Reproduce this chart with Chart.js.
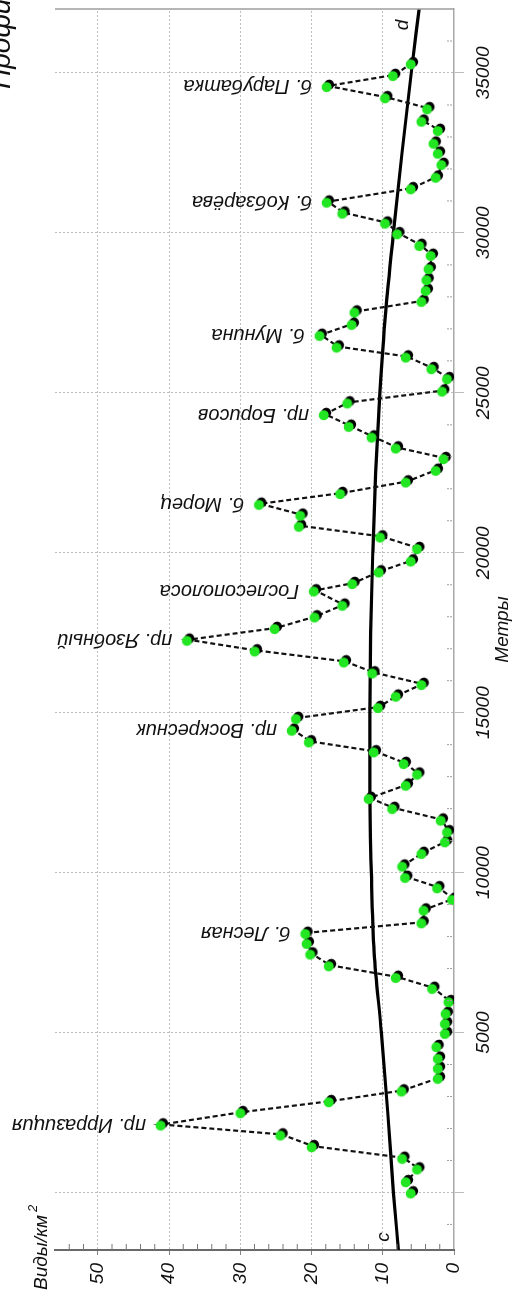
<!DOCTYPE html>
<html>
<head>
<meta charset="utf-8">
<script src="https://cdn.jsdelivr.net/npm/chart.js@4.4.0/dist/chart.umd.min.js"></script>
<style>
  html, body { margin: 0; padding: 0; background: #fff; overflow: hidden; }
  body { width: 515px; height: 1297px; position: relative; }
  /* the profile is drawn lying on its side: canvas is laid out wide, then turned */
  #wrap {
    position: absolute; left: 0; top: 0;
    width: 1297px; height: 515px;
    transform-origin: 0 0;
    transform: translate(0, 1297px) rotate(-90deg);
  }
</style>
</head>
<body>
<div id="wrap"><canvas id="profileChart" width="1297" height="515"></canvas></div>
<script>
// distance along the profile, m
const distance = [
    0, 353, 750, 1083, 1447, 1813, 2125, 2510, 2853, 3188,
    3584, 3900, 4210, 4578, 4990, 5300, 5615, 5980, 6397, 6740,
    7103, 7469, 7803, 8116, 8447, 8844, 9178, 9541, 9866, 10219,
    10616, 10978, 11291, 11656, 12022, 12334, 12750, 13094, 13428, 13791,
    14103, 14469, 14834, 15178, 15531, 15897, 16259, 16603, 16947, 17281,
    17647, 18009, 18375, 18822, 19053, 19416, 19759, 20147, 20509, 20844,
    21188, 21531, 21866, 22228, 22594, 22959, 23291, 23634, 23969, 24334,
    24700, 25072, 25459, 25772, 26134, 26447, 26813, 27156, 27541, 27875,
    28219, 28553, 28897, 29313, 29625, 29990, 30322, 30634, 30978, 31397,
    31759, 32156, 32509, 32822, 33219, 33509, 33897, 34241, 34594, 34938,
    35303
];
// species per km2 at each station
const species = [
    5.9, 6.6, 5.0, 7.1, 19.8, 24.2, 41.0, 29.8, 17.4, 7.2,
    2.1, 2.1, 2.1, 2.3, 1.1, 1.1, 1.0, 0.6, 2.9, 8.0,
    17.4, 20.0, 20.5, 20.7, 4.4, 4.1, 0.1, 2.2, 6.7, 7.1,
    4.4, 1.1, 0.8, 1.7, 8.5, 11.8, 6.6, 5.0, 6.9, 11.1,
    20.2, 22.6, 22.0, 10.5, 8.0, 4.4, 11.3, 15.3, 27.8, 37.3,
    25.0, 19.4, 15.5, 19.5, 14.1, 10.4, 5.9, 5.0, 10.2, 21.6,
    21.4, 27.2, 15.8, 6.6, 2.4, 1.3, 8.0, 11.4, 14.6, 18.1,
    14.8, 1.5, 0.8, 3.0, 6.6, 16.3, 18.7, 14.2, 13.8, 4.4,
    3.8, 3.7, 3.4, 3.1, 4.7, 7.8, 9.5, 15.5, 17.7, 5.9,
    2.4, 1.6, 2.1, 2.7, 2.1, 4.4, 3.6, 9.5, 17.7, 8.4,
    5.9
];
// smoothed trend c - d
const trendDistance = [-1800, 0, 2500, 5000, 7500, 10000, 12500, 15000, 17500, 20000, 22500, 25000, 27500, 30000, 32500, 35000, 37000];
const trendSpecies = [7.8, 8.5, 9.3, 10.2, 11.2, 11.6, 11.8, 11.8, 11.7, 11.4, 11.0, 10.4, 9.6, 8.5, 7.3, 6.0, 4.9];

// named sites on the peaks
const siteNames = ['пр. Ирразиция', 'б. Лесная', 'пр. Воскресник', 'пр. Язобный', 'Гослесополоса', 'б. Морец', 'пр. Борисов', 'б. Мунина', 'б. Кобзарёва', 'б. Парубатка'];
const siteDistance = [2125, 8116, 14469, 17281, 18822, 21531, 24334, 26813, 30978, 34594];
const endNames = ['c', 'd'];

const distanceTicks = [0, 5000, 10000, 15000, 20000, 25000, 30000, 35000];
const speciesTicks = [0, 10, 20, 30, 40, 50];

const FONT = '"Liberation Sans", Arial, sans-serif';

// green marker with a dark offset rim
function makeMarker() {
    const c = document.createElement('canvas');
    c.width = 16;
    c.height = 16;
    const g = c.getContext('2d');
    g.fillStyle = '#000';
    g.beginPath(); g.arc(9.3, 9.3, 5.0, 0, Math.PI * 2); g.fill();
    g.fillStyle = '#22e622';
    g.beginPath(); g.arc(6.8, 6.8, 5.0, 0, Math.PI * 2); g.fill();
    return c;
}

const extras = {
    id: 'extras',
    afterDraw(chart) {
        const { ctx, chartArea: a, scales: { x, y } } = chart;
        ctx.save();

        // right frame line
        ctx.strokeStyle = '#9c9c9c';
        ctx.lineWidth = 1.5;
        ctx.beginPath();
        ctx.moveTo(a.right, a.top);
        ctx.lineTo(a.right, a.bottom);
        ctx.stroke();

        // minor ticks along distance axis
        ctx.strokeStyle = '#a0a0a0';
        ctx.lineWidth = 1;
        ctx.setLineDash([2, 1]);
        for (let m = -1000; m <= 36000; m += 1000) {
            if (m % 5000 === 0) continue;
            const px = x.getPixelForValue(m);
            ctx.beginPath();
            ctx.moveTo(px, a.bottom - 2);
            ctx.lineTo(px, a.bottom - 8);
            ctx.stroke();
        }
        ctx.setLineDash([]);

        // minor ticks along species axis
        ctx.strokeStyle = '#777';
        for (let v = 2; v < 56; v += 2) {
            if (v % 10 === 0) continue;
            const py = y.getPixelForValue(v);
            ctx.beginPath();
            ctx.moveTo(a.left, py);
            ctx.lineTo(a.left + 6, py);
            ctx.stroke();
        }

        ctx.fillStyle = '#111';

        // site names, written upward from the peak
        ctx.font = 'italic 20px ' + FONT;
        ctx.textBaseline = 'middle';
        ctx.textAlign = 'left';
        siteNames.forEach((name, i) => {
            const k = distance.indexOf(siteDistance[i]);
            const px = x.getPixelForValue(distance[k]);
            const py = y.getPixelForValue(species[k]);
            ctx.save();
            ctx.translate(px, py - 16);
            ctx.rotate(-Math.PI / 2);
            ctx.fillText(name, 0, 0);
            ctx.restore();
        });

        // trend end letters
        ctx.font = 'italic 19px ' + FONT;
        ctx.textAlign = 'center';
        const n = trendDistance.length - 1;
        ctx.fillText(endNames[0], x.getPixelForValue(trendDistance[0]) + 13, y.getPixelForValue(trendSpecies[0]) - 15);
        ctx.fillText(endNames[1], x.getPixelForValue(trendDistance[n]) - 16, y.getPixelForValue(trendSpecies[n]) - 16);

        // axis titles
        ctx.font = 'italic 19px ' + FONT;
        ctx.fillText('Метры', (a.left + a.right) / 2, 503);
        ctx.textAlign = 'left';
        ctx.textBaseline = 'alphabetic';
        ctx.fillText('Виды/км', 7, 47);
        const w = ctx.measureText('Виды/км').width;
        ctx.font = 'italic 13px ' + FONT;
        ctx.fillText('2', 7 + w + 3, 37);

        // heading, cut at the edge
        ctx.font = 'italic 28px ' + FONT;
        ctx.fillText('Профиль', 1208, 10);

        ctx.restore();
    }
};

const profileChart = new Chart(document.getElementById('profileChart').getContext('2d'), {
    type: 'scatter',
    data: {
        datasets: [
            {
                label: 'Виды/км²',
                data: distance.map((d, i) => ({ x: d, y: species[i] })),
                showLine: true,
                borderColor: '#111',
                borderWidth: 2.2,
                borderDash: [5, 3],
                pointStyle: makeMarker(),
                pointRadius: 6,
                order: 1
            },
            {
                label: 'c - d',
                data: trendDistance.map((d, i) => ({ x: d, y: trendSpecies[i] })),
                showLine: true,
                borderColor: '#000',
                borderWidth: 3.2,
                pointRadius: 0,
                cubicInterpolationMode: 'monotone',
                order: 2
            }
        ]
    },
    options: {
        responsive: false,
        animation: false,
        devicePixelRatio: 1,
        events: [],
        layout: { padding: { top: 55, right: 9, left: 0, bottom: 0 } },
        plugins: {
            legend: { display: false },
            tooltip: { enabled: false }
        },
        scales: {
            x: {
                type: 'linear',
                min: -1800,
                max: 37000,
                afterFit: s => { s.height = 61; },
                afterBuildTicks: s => { s.ticks = distanceTicks.map(v => ({ value: v })); },
                grid: { color: '#bdbdbd', lineWidth: 1, tickLength: 10, tickColor: '#bdbdbd' },
                border: { display: true, color: '#a8a8a8', width: 1.5, dash: [2, 2] },
                ticks: {
                    padding: 8,
                    color: '#111',
                    autoSkip: false,
                    maxRotation: 0,
                    font: { family: FONT, size: 19, style: 'italic' },
                    callback: v => (v === 0 ? '' : String(v))
                }
            },
            y: {
                min: 0,
                max: 56,
                afterFit: s => { s.width = 47; },
                afterBuildTicks: s => { s.ticks = speciesTicks.map(v => ({ value: v })); },
                grid: {
                    color: c => (c.tick && c.tick.value === 0 ? 'rgba(0,0,0,0)' : '#bdbdbd'),
                    lineWidth: 1,
                    tickLength: 5,
                    tickColor: '#888'
                },
                border: { display: true, color: '#6a6a6a', width: 2, dash: [2, 2] },
                ticks: {
                    padding: 8,
                    color: '#111',
                    font: { family: FONT, size: 19, style: 'italic' },
                    callback: v => String(v)
                }
            }
        }
    },
    plugins: [extras]
});
</script>
</body>
</html>
